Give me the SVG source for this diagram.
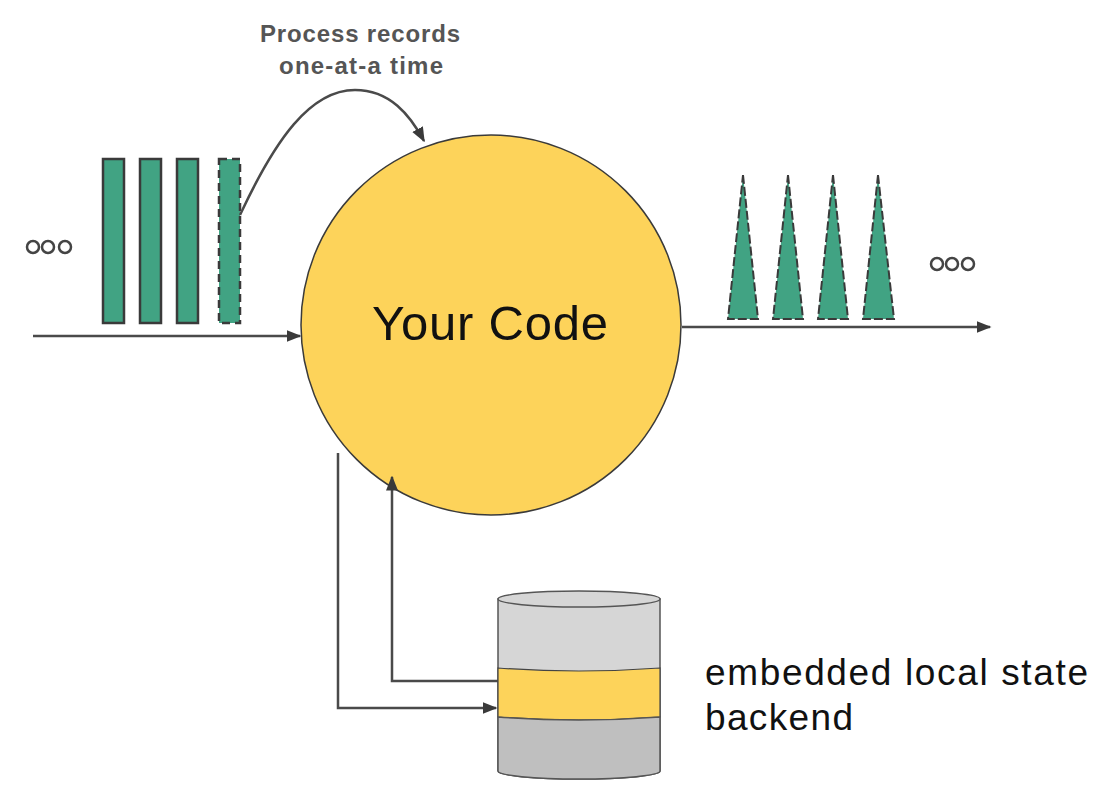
<svg xmlns="http://www.w3.org/2000/svg" width="1108" height="792" viewBox="0 0 1108 792">
<style>
.rec{fill:#41a383;stroke:#3a3a3a;stroke-width:2.5}
.dash{stroke-dasharray:8 5}
.tri{fill:#41a383;stroke:#3a3a3a;stroke-width:2;stroke-dasharray:9 3}
.dot{fill:none;stroke:#444;stroke-width:2.5}
.ln{fill:none;stroke:#4a4a4a;stroke-width:2.5}
.lbl{font-family:"Liberation Sans",Arial,sans-serif;fill:#111}
.note{font-family:"Liberation Sans",Arial,sans-serif;font-weight:bold;font-size:24px;fill:#555}
</style>
<defs>
<marker id="ah" viewBox="0 0 10 10" refX="9" refY="5" markerWidth="6" markerHeight="6" orient="auto-start-reverse" markerUnits="strokeWidth">
<path d="M0,1 L10,5 L0,9 z" fill="#3a3a3a"/>
</marker>
</defs>
<rect width="1108" height="792" fill="#fff"/>
<g id="input-records">
<circle class="dot" cx="33" cy="247" r="6"/>
<circle class="dot" cx="48" cy="247" r="6"/>
<circle class="dot" cx="65" cy="247" r="6"/>
<rect class="rec" x="103" y="159" width="21" height="164"/>
<rect class="rec" x="140" y="159" width="21" height="164"/>
<rect class="rec" x="177" y="159" width="21" height="164"/>
<rect class="rec dash" x="219" y="159" width="21" height="164"/>
</g>
<g id="output-records">
<polygon class="tri" points="743,175 758,319 728,319"/>
<polygon class="tri" points="788,175 803,319 773,319"/>
<polygon class="tri" points="833,175 848,319 818,319"/>
<polygon class="tri" points="878,175 894,319 863,319"/>
<circle class="dot" cx="937" cy="264" r="6"/>
<circle class="dot" cx="952" cy="264" r="6"/>
<circle class="dot" cx="968" cy="264" r="6"/>
</g>
<g id="your-code">
<circle cx="491" cy="325" r="190" fill="#fdd35a" stroke="#3a3a3a" stroke-width="1.5"/>
<text class="lbl" x="372" y="340" font-size="49" textLength="236" lengthAdjust="spacing">Your Code</text>
</g>
<g id="state-backend">
<path d="M498,599 L498,771 A81,8 0 0 0 660,771 L660,599 Z" fill="#d6d6d6" stroke="#555" stroke-width="1.5"/>
<path d="M498,668 Q579,674 660,668 L660,717 Q579,723 498,717 Z" fill="#fdd35a" stroke="#444" stroke-width="1.2"/>
<path d="M498,717 Q579,723 660,717 L660,771 A81,8 0 0 1 498,771 Z" fill="#bfbfbf" stroke="#555" stroke-width="1.5"/>
<ellipse cx="579" cy="599" rx="81" ry="8" fill="#d6d6d6" stroke="#555" stroke-width="1.5"/>
<text class="lbl" x="705" y="685" font-size="37" textLength="383" lengthAdjust="spacing">embedded local state</text>
<text class="lbl" x="705" y="730" font-size="37" textLength="148" lengthAdjust="spacing">backend</text>
</g>
<g id="note">
<text class="note" x="260" y="42" textLength="200" lengthAdjust="spacing">Process records</text>
<text class="note" x="279" y="74" textLength="164" lengthAdjust="spacing">one-at-a time</text>
</g>
<g id="connectors">
<path class="ln" d="M33,336 L300,336" marker-end="url(#ah)"/>
<path class="ln" d="M682,327 L990,327" marker-end="url(#ah)"/>
<path class="ln" d="M240,215 C275,140 310,90 355,90 C390,90 410,115 424,141" marker-end="url(#ah)"/>
<path class="ln" d="M338,453 L338,708 L496,708" marker-end="url(#ah)"/>
<path class="ln" d="M498,681 L392,681 L392,477" marker-end="url(#ah)"/>
</g>
</svg>
